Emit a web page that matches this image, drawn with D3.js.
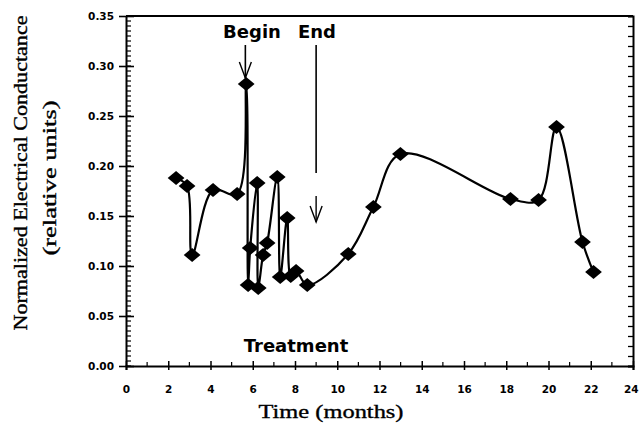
<!DOCTYPE html>
<html>
<head>
<meta charset="utf-8">
<script src="https://cdn.jsdelivr.net/npm/d3@7"></script>
<style>
html,body{margin:0;padding:0;background:#fff;}
svg{display:block;}
</style>
</head>
<body>
<svg id="chart" width="639" height="427"></svg>
<script>
// ---- data ----
const months = [2.37, 2.89, 3.13, 4.12, 5.26, 5.69, 5.78, 5.88, 6.21, 6.26, 6.49, 6.68, 7.16, 7.30, 7.63, 7.80, 8.05, 8.58, 10.52, 11.71, 12.99, 18.20, 19.53, 20.38, 21.61, 22.13];
const conductance = [0.188, 0.180, 0.111, 0.176, 0.172, 0.282, 0.081, 0.118, 0.183, 0.078, 0.111, 0.123, 0.189, 0.089, 0.148, 0.090, 0.095, 0.081, 0.112, 0.159, 0.212, 0.167, 0.166, 0.239, 0.124, 0.094];
const xTicks = [0, 2, 4, 6, 8, 10, 12, 14, 16, 18, 20, 22, 24];
const yTicks = [0.00, 0.05, 0.10, 0.15, 0.20, 0.25, 0.30, 0.35];
const treatmentBegin = 5.65;
const treatmentEnd = 9.0;

const svg = d3.select("#chart");
const x = d3.scaleLinear().domain([0, 24]).range([126, 633]);
const y = d3.scaleLinear().domain([0, 0.35]).range([366, 16]);

const g = svg.append("g");

// top frame line
g.append("line").attr("x1", x(0)).attr("x2", x(24)).attr("y1", y(0.35)).attr("y2", y(0.35))
  .attr("stroke", "#000").attr("stroke-width", 2);

// left axis
const yAxis = d3.axisLeft(y).tickValues(yTicks).tickFormat(d3.format(".2f")).tickSize(0).tickPadding(12);
const ya = g.append("g").attr("transform", `translate(${x(0)},0)`).call(yAxis);
ya.select(".domain").attr("stroke", "#000").attr("stroke-width", 2);
ya.selectAll("text").attr("font-family", "DejaVu Sans").attr("font-weight", "bold")
  .attr("font-size", 10.5).attr("fill", "#000");
ya.selectAll(".tick").append("line").attr("x1", -7).attr("x2", 8).attr("stroke", "#000").attr("stroke-width", 1.6);
// minor ticks on left axis (inside)
const minorY = d3.range(0, 0.3501, 0.005);
g.append("g").selectAll("line").data(minorY).join("line")
  .attr("x1", x(0)).attr("x2", x(0) + 5)
  .attr("y1", d => y(d)).attr("y2", d => y(d))
  .attr("stroke", "#000").attr("stroke-width", 1.2);

// right axis
const yAxisR = d3.axisRight(y).tickValues(d3.range(0, 0.3501, 0.01)).tickFormat("").tickSize(-5);
const yr = g.append("g").attr("transform", `translate(${x(24)},0)`).call(yAxisR);
yr.select(".domain").attr("stroke", "#000").attr("stroke-width", 2);
yr.selectAll(".tick line").attr("stroke", "#000").attr("stroke-width", 1.3);

// bottom axis
const xa = g.append("g").attr("transform", `translate(0,${y(0)})`)
  .call(d3.axisBottom(x).tickValues(xTicks).tickFormat(d3.format("d")).tickSize(4).tickPadding(16));
xa.select(".domain").attr("stroke", "#000").attr("stroke-width", 2);
xa.selectAll(".tick line").attr("y1", -5).attr("y2", 4).attr("stroke", "#000").attr("stroke-width", 1.5);
xa.selectAll("text").attr("font-family", "DejaVu Sans").attr("font-weight", "bold")
  .attr("font-size", 10.5).attr("fill", "#000");
// keep the last label inside the window
xa.selectAll("text").filter(d => d === 24).attr("text-anchor", "end").attr("dx", 5);
// minor x ticks
g.append("g").selectAll("line").data(d3.range(1, 24, 2)).join("line")
  .attr("x1", d => x(d)).attr("x2", d => x(d))
  .attr("y1", y(0)).attr("y2", y(0) - 4)
  .attr("stroke", "#000").attr("stroke-width", 1.2);

// data line
const line = d3.line().x(d => x(d[0])).y(d => y(d[1])).curve(d3.curveCatmullRom.alpha(0.5));
const pts = months.map((m, i) => [m, conductance[i]]);
g.append("path").datum(pts).attr("d", line).attr("fill", "none").attr("stroke", "#000").attr("stroke-width", 2.2);

// diamond markers
const diamond = d3.symbol().type(d3.symbolSquare).size(112);
g.append("g").selectAll("path").data(pts).join("path")
  .attr("d", diamond)
  .attr("transform", d => `translate(${x(d[0])},${y(d[1])}) scale(1.12,0.95) rotate(45)`)
  .attr("fill", "#000");

// annotation arrows
function arrowHead(xc, ytip) {
  g.append("path").attr("d", `M${xc - 6},${ytip - 16} L${xc},${ytip} L${xc + 6},${ytip - 16}`)
    .attr("fill", "none").attr("stroke", "#000").attr("stroke-width", 1.4);
}
const bx = x(treatmentBegin);
g.append("line").attr("x1", bx).attr("x2", bx).attr("y1", 45).attr("y2", 78).attr("stroke", "#000").attr("stroke-width", 1.6);
arrowHead(bx, 78);
const ex = x(treatmentEnd);
g.append("line").attr("x1", ex).attr("x2", ex).attr("y1", 45).attr("y2", 173).attr("stroke", "#000").attr("stroke-width", 1.6);
g.append("line").attr("x1", ex).attr("x2", ex).attr("y1", 196).attr("y2", 222).attr("stroke", "#000").attr("stroke-width", 1.4);
arrowHead(ex, 222);

// annotation labels
const boldFont = "DejaVu Sans";
g.append("text").attr("x", 252).attr("y", 38).attr("text-anchor", "middle")
  .attr("font-family", boldFont).attr("font-weight", "bold").attr("font-size", 18).text("Begin");
g.append("text").attr("x", 317).attr("y", 38).attr("text-anchor", "middle")
  .attr("font-family", boldFont).attr("font-weight", "bold").attr("font-size", 18).text("End");
g.append("text").attr("x", 296).attr("y", 352).attr("text-anchor", "middle")
  .attr("font-family", boldFont).attr("font-weight", "bold").attr("font-size", 18).text("Treatment");

// axis titles
const titleStyle = sel => sel.attr("font-family", "Liberation Serif").attr("fill", "#000")
  .attr("stroke", "#000").attr("stroke-width", 0.35);
g.append("text").attr("x", 331).attr("y", 418).attr("text-anchor", "middle")
  .attr("font-size", 19).call(titleStyle)
  .attr("textLength", 145).attr("lengthAdjust", "spacingAndGlyphs").text("Time (months)");
g.append("text").attr("transform", "translate(27,173) rotate(-90)").attr("text-anchor", "middle")
  .attr("font-size", 19).call(titleStyle)
  .attr("textLength", 315).attr("lengthAdjust", "spacingAndGlyphs").text("Normalized Electrical Conductance");
g.append("text").attr("transform", "translate(56,178) rotate(-90)").attr("text-anchor", "middle")
  .attr("font-size", 18).call(titleStyle)
  .attr("textLength", 155).attr("lengthAdjust", "spacingAndGlyphs").text("(relative units)");
</script>
</body>
</html>
